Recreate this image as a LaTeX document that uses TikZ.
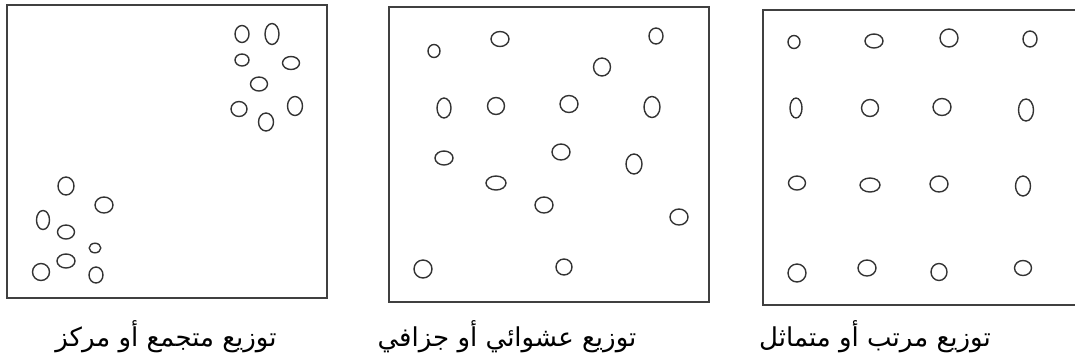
\documentclass[tikz,border=0pt]{standalone}
\usepackage{fontspec}
\newfontfamily\arabicfont[Script=Arabic]{DejaVu Sans}
\TeXXeTstate=1

\begin{document}
\begin{tikzpicture}[x=1pt, y=-1pt,
    frame/.style={draw=black!75, line width=1.8pt},
    spot/.style={draw=black!80, line width=1.4pt},
    caption/.style={font=\arabicfont\fontsize{26}{30}\selectfont, inner sep=0pt}]
  % page: 1075 x 360 px, y grows downwards
  \useasboundingbox (0,0) rectangle (1075,360);

  % clustered pattern
  \draw[frame] (7,5) rectangle (327,298);
  \foreach \x/\y/\a/\b in {242/34/7/8.5, 272/34/7/10.5, 242/60/7/6, 291/63/8.5/6.5,
                           259/84/8.5/7, 239/109/8/7.5, 266/122/7.5/9, 295/106/7.5/9.5,
                           66/186/8/9, 104/205/9/8, 43/220/6.5/9.5, 66/232/8.5/7,
                           95/248/5.8/4.8, 66/261/9/7, 41/272/8.5/8.5, 96/275/7/8}
    \draw[spot] (\x,\y) ellipse (\a pt and \b pt);
  \node[caption] (clustered) at (166,337) {\beginR توزيع متجمع أو مركز\endR};

  % random pattern
  \draw[frame] (389,7) rectangle (709,302);
  \foreach \x/\y/\a/\b in {434/51/6/6.5, 500/39/9/7.5, 656/36/7/8, 602/67/8.5/9,
                           444/108/7/10, 496/106/8.5/8.5, 569/104/9/8.5, 652/107/8/10.5,
                           444/158/9/7, 561/152/9/8, 634/164/8/10, 496/183/10/7,
                           544/205/9/8, 679/217/9/8, 423/269/9/9, 564/267/8/8}
    \draw[spot] (\x,\y) ellipse (\a pt and \b pt);
  \node[caption] (random) at (507,337) {\beginR توزيع عشوائي أو جزافي\endR};

  % regular pattern (box runs past the right edge)
  \draw[frame] (1080,10) -- (763,10) -- (763,305) -- (1080,305);
  \foreach \x/\y/\a/\b in {794/42/6/6.5, 874/41/9/7, 949/38/9/9, 1030/39/7/8,
                           796/108/6/10, 870/108/8.5/8.5, 942/107/9/8.5, 1026/110/7.5/11,
                           797/183/8.5/7, 870/185/10/7, 939/184/9/8, 1023/186/7.5/10,
                           797/273/9/9, 867/268/9/8, 939/272/8/8.5, 1023/268/8.5/7.5}
    \draw[spot] (\x,\y) ellipse (\a pt and \b pt);
  \node[caption] (regular) at (875,337) {\beginR توزيع مرتب أو متماثل\endR};
\end{tikzpicture}
\end{document}
